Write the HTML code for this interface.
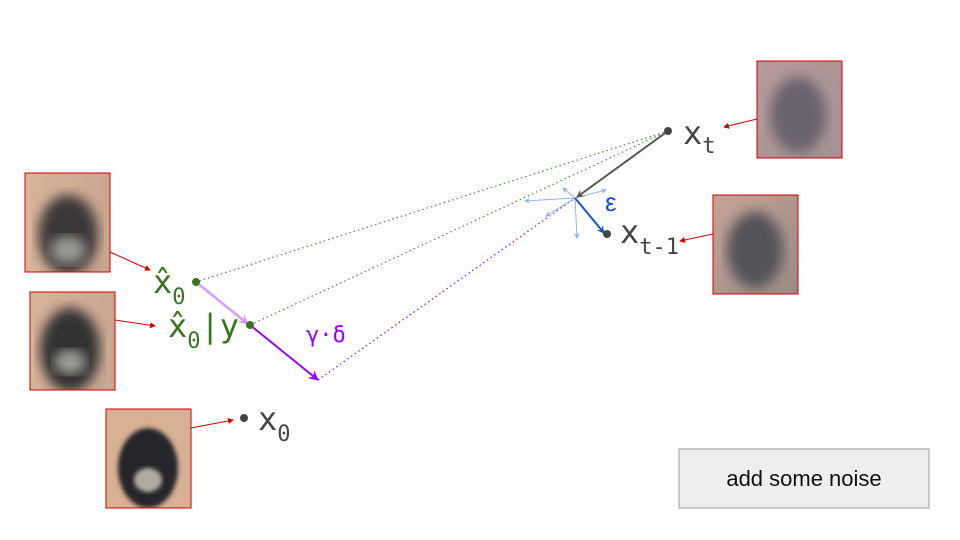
<!DOCTYPE html>
<html><head><meta charset="utf-8"><style>
body{margin:0;background:#fff;}
svg{display:block;font-family:"Liberation Sans",sans-serif;}
.mono{font-family:"DejaVu Sans Mono","Liberation Mono",monospace;}
</style></head><body>
<svg width="960" height="540" viewBox="0 0 960 540">
<defs>
<marker id="ag" markerWidth="8" markerHeight="8" refX="7" refY="4" orient="auto" markerUnits="userSpaceOnUse"><path d="M0,0 L8,4 L0,8 L3,4z" fill="#555"/></marker>
<marker id="ab" markerWidth="8" markerHeight="8" refX="7" refY="4" orient="auto" markerUnits="userSpaceOnUse"><path d="M0,0 L8,4 L0,8 L3,4z" fill="#1155cc"/></marker>
<marker id="alb" markerWidth="6" markerHeight="6" refX="5" refY="3" orient="auto" markerUnits="userSpaceOnUse"><path d="M0,0 L6,3 L0,6 L2,3z" fill="#8fb4f0"/></marker>
<marker id="ap" markerWidth="10" markerHeight="10" refX="9" refY="5" orient="auto" markerUnits="userSpaceOnUse"><path d="M0,0 L10,5 L0,10 L3,5z" fill="#9900ff"/></marker>
<marker id="alp" markerWidth="10" markerHeight="10" refX="9" refY="5" orient="auto" markerUnits="userSpaceOnUse"><path d="M0,0 L10,5 L0,10 L3,5z" fill="#d69cff"/></marker>
<marker id="ar" markerWidth="6" markerHeight="6" refX="5" refY="3" orient="auto" markerUnits="userSpaceOnUse"><path d="M0,0 L6,3 L0,6z" fill="#cc0000"/></marker>
<linearGradient id="blur1" x1="0" y1="0" x2="1" y2="0"><stop offset="0" stop-color="#d9b49a"/><stop offset="1" stop-color="#c9a690"/></linearGradient>
<linearGradient id="noisy" x1="0" y1="0" x2="1" y2="1"><stop offset="0" stop-color="#b69a9a"/><stop offset="1" stop-color="#a49293"/></linearGradient>
<linearGradient id="noisy2" x1="0" y1="0" x2="1" y2="1"><stop offset="0" stop-color="#c4a496"/><stop offset="1" stop-color="#9a8a84"/></linearGradient>
<filter id="bl"><feGaussianBlur stdDeviation="6"/></filter>
<filter id="bl2"><feGaussianBlur stdDeviation="2"/></filter>
<clipPath id="c1"><rect x="25" y="173" width="85" height="99"/></clipPath>
<clipPath id="c2"><rect x="30" y="292" width="85" height="98"/></clipPath>
<clipPath id="c3"><rect x="106" y="409" width="85" height="99"/></clipPath>
<clipPath id="c4"><rect x="757" y="61" width="85" height="97"/></clipPath>
<clipPath id="c5"><rect x="713" y="195" width="85" height="99"/></clipPath>
</defs>

<!-- images -->
<g clip-path="url(#c1)">
<rect x="25" y="173" width="85" height="99" fill="url(#blur1)"/>
<ellipse cx="68" cy="235" rx="30" ry="40" fill="#3a3838" filter="url(#bl)"/>
<ellipse cx="68" cy="250" rx="18" ry="14" fill="#9a9a94" filter="url(#bl)"/>
</g>
<rect x="25" y="173" width="85" height="99" fill="none" stroke="#cc0000"/>
<g clip-path="url(#c2)">
<rect x="30" y="292" width="85" height="98" fill="url(#blur1)"/>
<ellipse cx="70" cy="350" rx="30" ry="42" fill="#333" filter="url(#bl)"/>
<ellipse cx="70" cy="362" rx="16" ry="12" fill="#a0a09a" filter="url(#bl)"/>
</g>
<rect x="30" y="292" width="85" height="98" fill="none" stroke="#cc0000"/>
<g clip-path="url(#c3)">
<rect x="106" y="409" width="85" height="99" fill="#d8b094"/>
<ellipse cx="148" cy="468" rx="30" ry="40" fill="#25262c" filter="url(#bl2)"/>
<ellipse cx="148" cy="480" rx="14" ry="12" fill="#b0aca0" filter="url(#bl2)"/>
</g>
<rect x="106" y="409" width="85" height="99" fill="none" stroke="#cc0000"/>
<g clip-path="url(#c4)">
<rect x="757" y="61" width="85" height="97" fill="url(#noisy)"/>
<ellipse cx="798" cy="115" rx="28" ry="38" fill="#6a6470" filter="url(#bl)"/>
</g>
<rect x="757" y="61" width="85" height="97" fill="none" stroke="#cc0000"/>
<g clip-path="url(#c5)">
<rect x="713" y="195" width="85" height="99" fill="url(#noisy2)"/>
<ellipse cx="755" cy="250" rx="28" ry="38" fill="#55525a" filter="url(#bl)"/>
</g>
<rect x="713" y="195" width="85" height="99" fill="none" stroke="#cc0000"/>

<!-- red pointers -->
<g stroke="#cc0000" stroke-width="1" marker-end="url(#ar)">
<line x1="110" y1="252" x2="150" y2="270"/>
<line x1="115" y1="320" x2="155" y2="326"/>
<line x1="191" y1="428" x2="233" y2="420"/>
<line x1="757" y1="119" x2="724" y2="127"/>
<line x1="713" y1="234" x2="680" y2="241"/>
</g>

<!-- dotted guides -->
<line x1="668" y1="131" x2="196" y2="282" stroke="#4a8a3a" stroke-width="1.2" stroke-dasharray="1.5,3"/>
<line x1="668" y1="131" x2="250" y2="325" stroke="#4a8a3a" stroke-width="1.2" stroke-dasharray="1.5,3"/>
<line x1="318" y1="380" x2="575" y2="198" stroke="#9900ff" stroke-width="1.2" stroke-dasharray="1.5,3"/>

<!-- noise fan -->
<g stroke="#8fb4f0" stroke-width="1" marker-end="url(#alb)">
<line x1="575" y1="198" x2="525" y2="201"/>
<line x1="575" y1="198" x2="546" y2="216"/>
<line x1="575" y1="198" x2="577" y2="238"/>
<line x1="575" y1="198" x2="563" y2="188"/>
<line x1="575" y1="198" x2="606" y2="190"/>
</g>

<!-- arrows -->
<line x1="668" y1="131" x2="577" y2="197" stroke="#555" stroke-width="2" marker-end="url(#ag)"/>
<line x1="575" y1="198" x2="604" y2="233" stroke="#1155cc" stroke-width="2" marker-end="url(#ab)"/>
<line x1="196" y1="282" x2="248" y2="324" stroke="#d69cff" stroke-width="2.5" marker-end="url(#alp)"/>
<line x1="250" y1="325" x2="318" y2="380" stroke="#9900ff" stroke-width="2" marker-end="url(#ap)"/>

<!-- points -->
<circle cx="668" cy="131" r="4" fill="#444"/>
<circle cx="607" cy="234" r="4" fill="#444"/>
<circle cx="244" cy="418" r="4" fill="#444"/>
<circle cx="196" cy="282" r="4" fill="#38761d"/>
<circle cx="250" cy="325" r="4" fill="#38761d"/>

<!-- labels -->
<text class="mono" x="683" y="144" font-size="32" fill="#444">x<tspan font-size="22" dy="9">t</tspan></text>
<text class="mono" x="620" y="243" font-size="32" fill="#444">x<tspan font-size="22" dy="11">t-1</tspan></text>
<text class="mono" x="258" y="430" font-size="32" fill="#444">x<tspan font-size="22" dy="11">0</tspan></text>
<text class="mono" x="153" y="293" font-size="32" fill="#38761d">x̂<tspan font-size="22" dy="11">0</tspan></text>
<text class="mono" x="168" y="337" font-size="32" fill="#38761d">x̂<tspan font-size="22" dy="11">0</tspan><tspan dy="-11">|y</tspan></text>
<text x="605" y="211" font-size="26" fill="#1155cc">ε</text>
<text class="mono" x="306" y="342" font-size="22" fill="#9900ff">γ·δ</text>

<!-- button -->
<g>
<rect x="679" y="449" width="250" height="59" fill="#eeeeee" stroke="#9e9e9e" stroke-width="1"/>
<text x="804" y="486" font-size="22" fill="#111" text-anchor="middle">add some noise</text>
</g>
</svg>
</body></html>
